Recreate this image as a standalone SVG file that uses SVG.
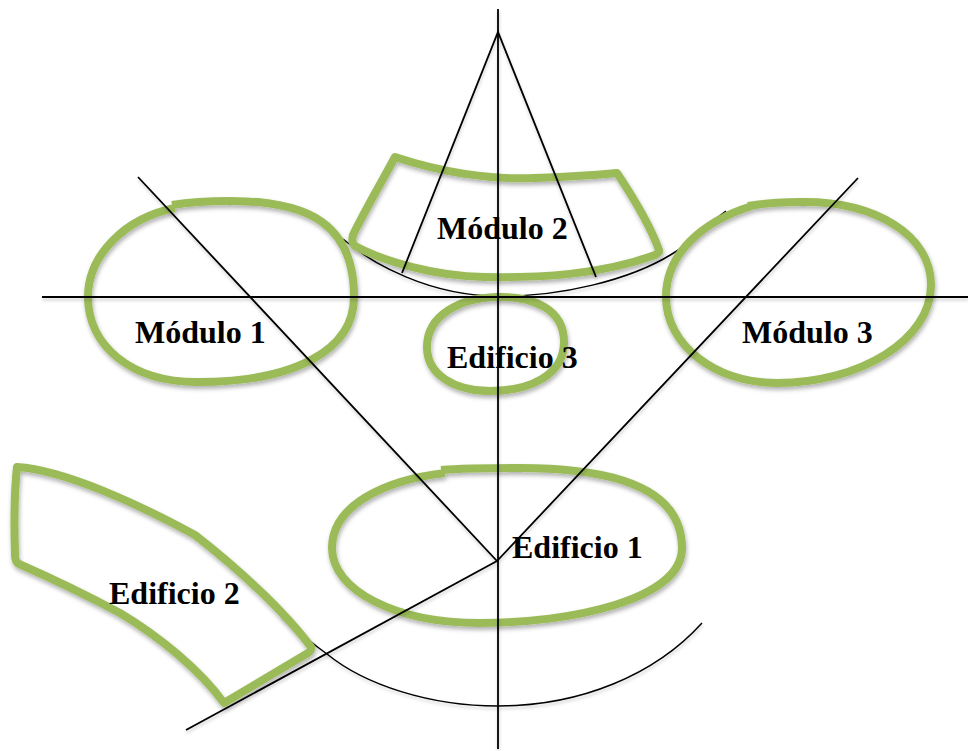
<svg xmlns="http://www.w3.org/2000/svg" width="968" height="751" viewBox="0 0 968 751">
<style>
.b{fill:none;stroke:#9bbb59;stroke-width:8;stroke-linejoin:round;stroke-linecap:butt;filter:url(#s)}
.l{fill:none;stroke:#000;stroke-width:1.8}
.a{fill:none;stroke:#000;stroke-width:1.5}
.sh{filter:url(#t)}
text{font-family:"Liberation Serif",serif;font-weight:bold;font-size:32px;fill:#000}
</style>
<defs>
<filter id="s" x="-10%" y="-10%" width="120%" height="125%"><feDropShadow dx="1" dy="3" stdDeviation="2" flood-color="#000" flood-opacity=".3"/></filter>
<filter id="t" x="-5%" y="-5%" width="110%" height="110%"><feDropShadow dx="0.5" dy="2.5" stdDeviation="1.5" flood-color="#000" flood-opacity=".2"/></filter>
</defs>
<rect width="968" height="751" fill="#fff"/>
<g id="arcs" class="sh">
<path class="a" d="M343 239C372 264 430 296 498 296C560 297 630 280 672 254C680 249 686 245 690 241C700 231 712 221 726 211"/>
<path class="a" d="M280 615C293 627 310 642 327 654C365 685 430 706 498 706C580 706 655 675 702 623"/>
</g>
<g id="modulo1"><path class="b" d="M172 205C190 202 210 201 230 201C310 201 354 225 354 297C354 350 295 382 197 382C130 382 88 345 88 297C88 255 125 218 175 208"/><text x="135" y="343">Módulo 1</text></g>
<g id="modulo2"><path class="b" d="M395 157C440 172 490 180 534 178C565 177 595 175 617 173C635 200 650 225 659 250Q660 252 655 255C600 275 540 278 484 277C435 276 385 262 355 246Q351 243 353 235C365 210 380 185 395 157Z"/><text x="437" y="239">Módulo 2</text></g>
<g id="modulo3"><path class="b" d="M748 206C765 203 783 202 801 202C875 201 931 235 931 285C931 340 860 383 777 383C715 383 666 345 666 297C666 255 700 222 752 206"/><text x="742" y="343">Módulo 3</text></g>
<g id="edificio3"><path class="b" d="M497 297C535 296 564 310 564 342C564 375 530 391 490 391C455 391 427 375 427 347C427 315 460 298 497 297Z"/><text x="447" y="368">Edificio 3</text></g>
<g id="edificio1"><path class="b" d="M441 470C465 468 495 468 520 468C630 468 682 495 682 548C682 600 570 623 480 623C395 623 332 590 332 548C332 505 385 480 445 473"/><text x="512" y="558">Edificio 1</text></g>
<g id="edificio2"><path class="b" d="M17 467C65 470 140 505 195 535C240 570 285 612 311 647Q312 650 308 653L224 703C200 670 160 637 120 613C90 597 60 582 19 564Q15 562 15 555C14 525 14 495 17 467Z"/><text x="109" y="604">Edificio 2</text></g>
<g id="connectors" class="sh">
<path class="l" d="M498 9V749"/>
<path class="l" d="M42 297H968"/>
<path class="l" d="M138 177L497 561L858 178"/>
<path class="l" d="M497 561L186 730"/>
<path class="l" d="M402 273L498 32L596 277"/>
</g>
</svg>
